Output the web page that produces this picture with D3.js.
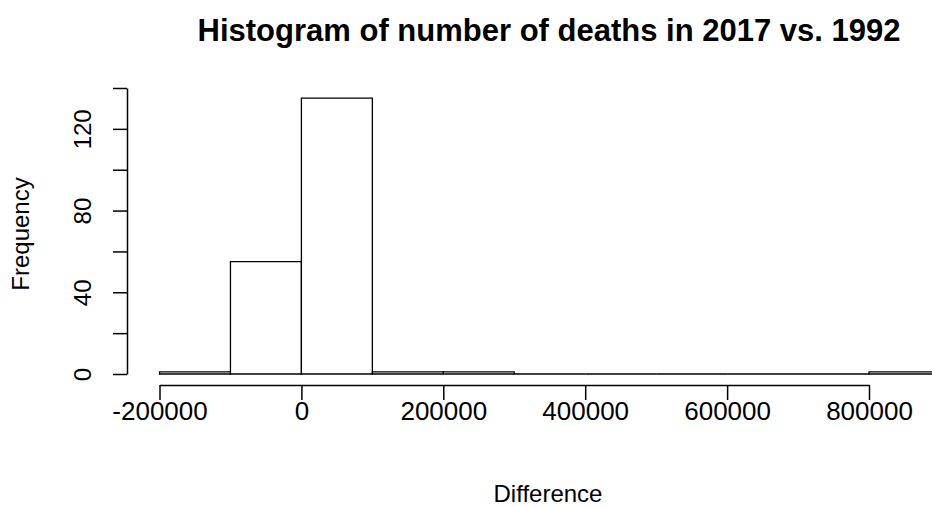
<!DOCTYPE html>
<html>
<head>
<meta charset="utf-8">
<script src="https://cdn.jsdelivr.net/npm/d3@7"></script>
<style>
  body { margin: 0; background: #fff; }
  svg { display: block; font-family: Arial, "Liberation Sans", Helvetica, sans-serif; }
</style>
</head>
<body>
<svg width="932" height="507"></svg>
<script>
var svg = d3.select("svg"),
  width = +svg.attr("width"),
  height = +svg.attr("height");

// histogram bins (left edges) and counts
var binStarts = [-200000, -100000, 0, 100000, 200000, 300000, 400000, 500000, 600000, 700000, 800000];
var binWidth = 100000;
var counts = [1, 55, 135, 1, 1, 0, 0, 0, 0, 0, 1];

var xTicks = [-200000, 0, 200000, 400000, 600000, 800000];
var yTicks = [0, 20, 40, 60, 80, 100, 120, 140];
var yLabels = [0, 40, 80, 120];

var xScale = d3.scaleLinear().domain([-200000, 800000]).range([159.5, 869]);
var yScale = d3.scaleLinear().domain([0, 140]).range([374, 88]);

// bars as closed paths so empty bins still show a line on the baseline
svg
  .append("g")
  .selectAll("path")
  .data(binStarts)
  .enter()
  .append("path")
  .attr("d", function (d, i) {
    var x0 = xScale(d), x1 = xScale(d + binWidth);
    var y0 = yScale(0), y1 = yScale(counts[i]);
    return "M" + x0 + "," + y0 + "V" + y1 + "H" + x1 + "V" + y0 + "Z";
  })
  .attr("fill", "white")
  .attr("stroke", "black")
  .attr("stroke-width", 1.3);

// x axis
var xAxis = d3.axisBottom(xScale)
  .tickValues(xTicks)
  .tickFormat(function (d) { return String(d); })
  .tickSizeOuter(0)
  .tickSizeInner(15)
  .tickPadding(5);
var gx = svg.append("g").attr("transform", "translate(0,385)").call(xAxis);

// y axis
var yAxis = d3.axisLeft(yScale)
  .tickValues(yTicks)
  .tickFormat(function (d) { return yLabels.indexOf(d) >= 0 ? d : ""; })
  .tickSizeOuter(0)
  .tickSizeInner(14);
var gy = svg.append("g").attr("transform", "translate(127,0)").call(yAxis);

[gx, gy].forEach(function (g) {
  g.selectAll("path, line").attr("stroke", "black").attr("stroke-width", 1.5);
  g.selectAll("text").attr("fill", "black").attr("font-size", 24).attr("font-family", "Arial, 'Liberation Sans', sans-serif");
});
gx.selectAll("text").attr("dy", null).attr("y", 35).attr("font-size", 26);

gy.selectAll("text")
  .attr("x", null)
  .attr("dy", null)
  .attr("text-anchor", "middle")
  .attr("transform", "translate(-36,0) rotate(-90)")
  .attr("y", 0);

// title
svg
  .append("text")
  .attr("x", 549)
  .attr("y", 41)
  .attr("text-anchor", "middle")
  .attr("font-weight", "bold")
  .attr("font-size", 31)
  .attr("fill", "black")
  .text("Histogram of number of deaths in 2017 vs. 1992");

// axis titles
svg
  .append("text")
  .attr("x", 548)
  .attr("y", 502)
  .attr("text-anchor", "middle")
  .attr("font-size", 24)
  .attr("fill", "black")
  .text("Difference");

svg
  .append("text")
  .attr("transform", "translate(29,234) rotate(-90)")
  .attr("text-anchor", "middle")
  .attr("font-size", 24)
  .attr("fill", "black")
  .text("Frequency");
</script>
</body>
</html>
